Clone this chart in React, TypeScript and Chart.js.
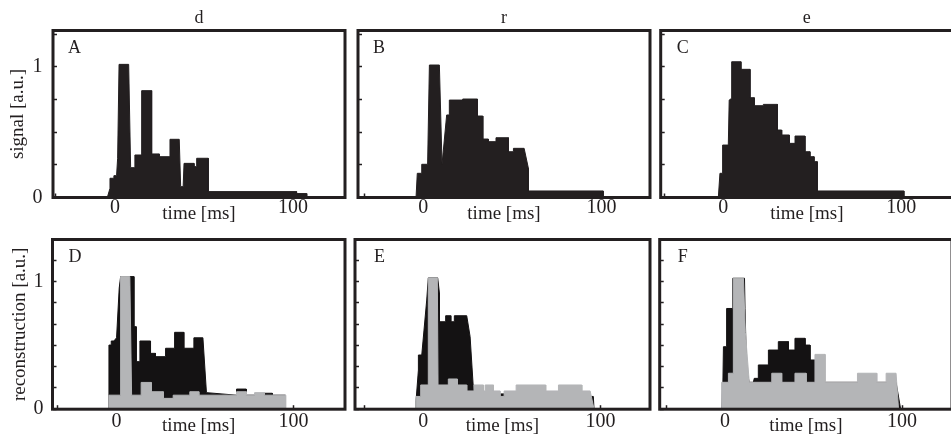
import React, { useEffect, useRef } from 'react';
import { Chart, registerables } from 'chart.js';

Chart.register(...registerables);

type Pt = [number, number];

const FONT = "'Liberation Serif', 'Times New Roman', serif";
const INK = '#231f20';
const BLACK = '#141213';
const GRAY = '#b4b5b7';

const COLUMN_TITLES = ['d', 'r', 'e'];
const ROW_Y_TITLES = ['signal [a.u.]', 'reconstruction [a.u.]'];
const X_TITLE = 'time [ms]';
const X_TICKS = [-33.3, 0, 33.3, 66.7, 100];
const X_TICK_LABELS = [0, 100];
const TOP_Y_TICKS = [0, 0.25, 0.5, 0.75, 1, 1.25];
const BOTTOM_Y_TICKS = [0, 0.167, 0.333, 0.5, 0.667, 0.833, 1, 1.167, 1.333];
const Y_TICK_LABELS = [0, 1];

// Panel A: signal, d
const signalD: Pt[] = [
  [-40, 0], [-4.3, 0], [-2.8, 0.07], [-2.8, 0.147], [-0.6, 0.147], [-0.6, 0.167], [0.9, 0.167],
  [1.5, 0.3], [2.3, 1.018], [7.7, 1.018], [8.8, 0.228], [11.2, 0.228], [11.2, 0.325], [15, 0.325],
  [15, 0.817], [20.6, 0.817], [20.6, 0.333], [24.9, 0.333], [24.9, 0.312], [30.9, 0.312],
  [30.9, 0.445], [36.1, 0.445], [36.9, 0.083], [38.3, 0.083], [38.8, 0.261], [44.4, 0.261],
  [44.4, 0.236], [45.9, 0.236], [45.9, 0.3], [52.4, 0.3], [52.4, 0.045], [102, 0.045],
  [102, 0.03], [107.7, 0.03], [107.7, 0], [135, 0],
];

// Panel B: signal, r
const signalR: Pt[] = [
  [-40, 0], [-4.1, 0], [-3.4, 0.185], [-0.9, 0.185], [-0.9, 0.254], [2.4, 0.254], [3.4, 1.013],
  [9, 1.013], [10.5, 0.254], [13.1, 0.631], [14.6, 0.631], [14.6, 0.745], [22.1, 0.745],
  [22.1, 0.753], [30.4, 0.753], [30.4, 0.623], [33.4, 0.623], [33.4, 0.447], [36.5, 0.447],
  [36.5, 0.427], [40.8, 0.427], [40.8, 0.457], [47.8, 0.457], [47.8, 0.35], [50.6, 0.35],
  [50.6, 0.376], [56.6, 0.376], [59, 0.223], [59, 0.05], [101, 0.05], [101, 0], [135, 0],
];

// Panel C: signal, e
const signalE: Pt[] = [
  [-40, 0], [-2.8, 0], [-1.9, 0.185], [-0.4, 0.185], [-0.4, 0.401], [2.8, 0.401], [3.3, 0.745],
  [4.7, 0.758], [4.7, 1.038], [9.9, 1.038], [9.9, 0.98], [15, 0.98], [15, 0.763], [17.4, 0.763],
  [17.4, 0.702], [22.5, 0.702], [22.5, 0.712], [30.4, 0.712], [30.4, 0.516], [32.8, 0.516],
  [32.8, 0.478], [37.1, 0.478], [37.1, 0.414], [40.3, 0.414], [40.3, 0.47], [45.9, 0.47],
  [45.9, 0.35], [48.7, 0.35], [48.7, 0.312], [51, 0.312], [51, 0.274], [52.8, 0.274],
  [52.8, 0.05], [101.5, 0.05], [101.5, 0], [135, 0],
];

// Panel D: reconstruction, d
const reconDBlack: Pt[] = [
  [-40, 0], [-4.3, 0], [-4.3, 0.503], [-3, 0.503], [-3, 0.535], [-1.5, 0.535], [0, 0.56],
  [1.5, 0.95], [2.3, 1.04], [9.8, 1.04], [9.8, 0.647], [11.1, 0.647], [11.1, 0.373], [13.2, 0.373],
  [13.2, 0.535], [19.2, 0.535], [19.2, 0.438], [22, 0.438], [22, 0.412], [27.7, 0.412],
  [27.7, 0.478], [32.8, 0.478], [32.8, 0.603], [38, 0.603], [38, 0.478], [43.7, 0.478],
  [43.7, 0.56], [48.8, 0.56], [50.8, 0.13], [67.8, 0.11], [67.8, 0.158], [73.3, 0.158],
  [73.3, 0.11], [83.6, 0.11], [83.6, 0.125], [88, 0.125], [88, 0.11], [95.5, 0.11],
  [95.5, 0], [135, 0],
];
const reconDGray: Pt[] = [
  [-40, 0], [-4.3, 0], [-4.3, 0.11], [2.3, 0.11], [2.3, 1.04], [7.5, 1.04], [8.5, 0.11],
  [13.9, 0.11], [13.9, 0.21], [19.6, 0.21], [19.6, 0.137], [26.4, 0.137], [26.4, 0.085],
  [32, 0.085], [32, 0.11], [41.4, 0.11], [41.4, 0.137], [46.5, 0.137], [46.5, 0.11],
  [67.8, 0.11], [67.8, 0.137], [73.3, 0.137], [73.3, 0.11], [78, 0.11], [78, 0.13],
  [83.6, 0.13], [83.6, 0.11], [95.5, 0.11], [95.5, 0], [135, 0],
];

// Panel E: reconstruction, r
const reconRBlack: Pt[] = [
  [-40, 0], [-4.1, 0], [-4.1, 0.07], [-2.8, 0.307], [-2.8, 0.425], [-0.9, 0.425], [1.9, 0.856],
  [2.8, 1.03], [8.1, 1.03], [9.1, 0.91], [9.1, 0.686], [12.6, 0.686], [12.6, 0.733],
  [15.5, 0.733], [15.5, 0.686], [17.5, 0.686], [17.5, 0.733], [24.5, 0.733], [26.4, 0.569],
  [28.3, 0.15], [43.3, 0.12], [45.6, 0.12], [45.6, 0.1], [96, 0.1], [96.4, 0], [135, 0],
];
const reconRGray: Pt[] = [
  [-40, 0], [-4.1, 0], [-4.1, 0.1], [-1.5, 0.1], [-1.5, 0.19], [2.8, 0.19], [2.8, 1.03],
  [7.9, 1.03], [8.3, 0.19], [14.1, 0.19], [14.1, 0.237], [19.2, 0.237], [19.2, 0.19],
  [24.5, 0.19], [24.5, 0.143], [28.6, 0.143], [28.6, 0.19], [33.9, 0.19], [33.9, 0.143],
  [34.9, 0.143], [34.9, 0.19], [39.6, 0.19], [39.6, 0.143], [43.3, 0.143], [43.3, 0.1],
  [45.6, 0.1], [45.6, 0.143], [52.4, 0.143], [52.4, 0.19], [69.1, 0.19], [69.1, 0.143],
  [76.3, 0.143], [76.3, 0.19], [89.5, 0.19], [89.5, 0.143], [94.2, 0.143], [96.4, 0], [135, 0],
];

// Panel F: reconstruction, e
const reconEBlack: Pt[] = [
  [-40, 0], [-1.9, 0], [-1.2, 0.211], [-0.9, 0.49], [0.9, 0.49], [0.9, 0.79], [4.1, 0.79],
  [4.4, 1.027], [11, 1.027], [11.3, 0.79], [12.2, 0.3], [13.7, 0.211], [16, 0.211],
  [16.5, 0.242], [18.8, 0.242], [18.8, 0.347], [24.5, 0.347], [24.5, 0.464], [30.1, 0.464],
  [30.1, 0.53], [35.8, 0.53], [35.8, 0.464], [39.5, 0.464], [39.5, 0.556], [45.2, 0.556],
  [45.2, 0.503], [48, 0.503], [48, 0.386], [50.8, 0.386], [50.8, 0.211], [96.6, 0.211],
  [99.2, 0], [135, 0],
];
const reconEGray: Pt[] = [
  [-40, 0], [-1.9, 0], [-1.9, 0.211], [1.9, 0.211], [1.9, 0.282], [4.7, 0.282], [4.7, 1.027],
  [10.4, 1.027], [11.5, 0.6], [13.7, 0.211], [26.4, 0.211], [26.4, 0.282], [32, 0.282],
  [32, 0.211], [39.5, 0.211], [39.5, 0.282], [45.8, 0.282], [45.8, 0.211], [50.8, 0.211],
  [50.8, 0.43], [56.5, 0.43], [56.5, 0.211], [74.8, 0.211], [74.8, 0.282], [85.7, 0.282],
  [85.7, 0.211], [91, 0.211], [91, 0.282], [96.6, 0.282], [98, 0], [135, 0],
];

type Series = { pts: Pt[]; color: string };
type PanelCfg = {
  letter: string;
  row: number;
  col: number;
  box: { l: number; r: number; t: number; b: number };
  xMin: number;
  xMax: number;
  letterDx: number;
  series: Series[];
};

const PANELS: PanelCfg[] = [
  { letter: 'A', row: 0, col: 0, box: { l: 53, r: 345, t: 30.5, b: 197.5 }, xMin: -34.8, xMax: 129.2, letterDx: 15,
    series: [{ pts: signalD, color: INK }] },
  { letter: 'B', row: 0, col: 1, box: { l: 358, r: 650, t: 30.5, b: 197.5 }, xMin: -36.7, xMax: 127.3, letterDx: 15,
    series: [{ pts: signalR, color: INK }] },
  { letter: 'C', row: 0, col: 2, box: { l: 660.7, r: 953, t: 30.5, b: 197.5 }, xMin: -35.2, xMax: 129.1, letterDx: 16,
    series: [{ pts: signalE, color: INK }] },
  { letter: 'D', row: 1, col: 0, box: { l: 52.5, r: 345, t: 239.5, b: 409.2 }, xMin: -36.2, xMax: 129.1, letterDx: 16,
    series: [{ pts: reconDGray, color: GRAY }, { pts: reconDBlack, color: BLACK }] },
  { letter: 'E', row: 1, col: 1, box: { l: 355, r: 650, t: 239.5, b: 409.2 }, xMin: -38.6, xMax: 128, letterDx: 19,
    series: [{ pts: reconRGray, color: GRAY }, { pts: reconRBlack, color: BLACK }] },
  { letter: 'F', row: 1, col: 2, box: { l: 659.7, r: 952, t: 239.5, b: 409.2 }, xMin: -36.9, xMax: 128.2, letterDx: 18,
    series: [{ pts: reconEGray, color: GRAY }, { pts: reconEBlack, color: BLACK }] },
];

function Panel({ p }: { p: PanelCfg }) {
  const ref = useRef<HTMLCanvasElement>(null);
  const canvasLeft = p.col === 0 ? 0 : Math.floor(p.box.l) - 6;
  const canvasRight = Math.ceil(p.box.r) + 4;
  const canvasTop = p.row === 0 ? 0 : 232;
  const canvasBottom = p.row === 0 ? 228 : 436;
  const W = canvasRight - canvasLeft;
  const H = canvasBottom - canvasTop;
  const ML = p.box.l - canvasLeft;
  const MR = canvasRight - p.box.r;
  const MT = p.box.t - canvasTop;
  const MB = canvasBottom - p.box.b;

  useEffect(() => {
    const colTitle = p.row === 0 ? COLUMN_TITLES[p.col] : '';
    const decor = {
      id: 'decor',
      afterDatasetsDraw(chart: any) {
        const { ctx, chartArea: a } = chart;
        ctx.save();
        ctx.strokeStyle = INK;
        ctx.lineWidth = 3;
        ctx.strokeRect(a.left, a.top, a.right - a.left, a.bottom - a.top);
        ctx.fillStyle = INK;
        ctx.font = `18px ${FONT}`;
        ctx.textAlign = 'left';
        ctx.textBaseline = 'alphabetic';
        ctx.fillText(p.letter, a.left + p.letterDx, a.top + 22);
        if (colTitle) {
          ctx.textAlign = 'center';
          ctx.fillText(colTitle, (a.left + a.right) / 2, 23);
        }
        ctx.restore();
      },
    };
    const zeroPad = (s: any) => {
      s.paddingLeft = 0;
      s.paddingRight = 0;
      s.paddingTop = 0;
      s.paddingBottom = 0;
    };
    const yTicks = p.row === 0 ? TOP_Y_TICKS : BOTTOM_Y_TICKS;
    const yMax = p.row === 0 ? 1.277 : 1.331;
    const chart = new Chart(ref.current as HTMLCanvasElement, {
      type: 'line',
      data: {
        datasets: p.series.map((s) => ({
          data: s.pts.map(([x, y]) => ({ x, y })),
          backgroundColor: s.color,
          borderColor: s.color,
          borderWidth: 1,
          fill: 'origin',
          pointRadius: 0,
          tension: 0,
        })),
      },
      options: {
        responsive: false,
        animation: false,
        devicePixelRatio: 1,
        events: [],
        layout: { padding: { top: MT, right: MR, bottom: 0, left: 0 } },
        plugins: { legend: { display: false }, tooltip: { enabled: false } },
        scales: {
          x: {
            type: 'linear',
            min: p.xMin,
            max: p.xMax,
            z: 1,
            afterBuildTicks: (s: any) => {
              s.ticks = X_TICKS.map((v) => ({ value: v }));
            },
            afterFit: (s: any) => {
              s.height = MB;
              zeroPad(s);
            },
            ticks: {
              autoSkip: false,
              maxRotation: 0,
              padding: p.row === 0 ? 4.5 : 6.5,
              color: INK,
              font: { family: FONT, size: 20, lineHeight: 1 },
              callback: (v: any) => (X_TICK_LABELS.includes(v) ? String(v) : ''),
            },
            grid: { display: true, drawOnChartArea: false, tickLength: -4, tickWidth: 1.5, tickColor: INK },
            border: { display: false },
            title: {
              display: true,
              text: X_TITLE,
              color: INK,
              font: { family: FONT, size: 19, lineHeight: 1 },
              padding: { top: 0, bottom: p.row === 0 ? 4.5 : 0 },
            },
          },
          y: {
            type: 'linear',
            min: 0,
            max: yMax,
            z: 1,
            afterBuildTicks: (s: any) => {
              s.ticks = yTicks.map((v) => ({ value: v }));
            },
            afterFit: (s: any) => {
              s.width = ML;
              zeroPad(s);
            },
            ticks: {
              autoSkip: false,
              padding: p.row === 0 ? 14.5 : 13,
              color: INK,
              font: { family: FONT, size: 20, lineHeight: 1 },
              callback: (v: any) => (p.col === 0 && Y_TICK_LABELS.includes(v) ? String(v) : ''),
            },
            grid: { display: true, drawOnChartArea: false, tickLength: -4, tickWidth: 1.5, tickColor: INK },
            border: { display: false },
            title: {
              display: p.col === 0,
              text: ROW_Y_TITLES[p.row],
              color: INK,
              font: { family: FONT, size: 19, lineHeight: 1 },
              padding: { top: p.row === 0 ? 9 : 10.5, bottom: 0 },
            },
          },
        },
      },
      plugins: [decor],
    } as any);
    return () => chart.destroy();
  }, []);

  return (
    <canvas
      ref={ref}
      width={W}
      height={H}
      style={{ position: 'absolute', left: canvasLeft, top: canvasTop, width: W, height: H }}
    />
  );
}

export default function App() {
  return (
    <div
      style={{
        position: 'fixed',
        left: 0,
        top: 0,
        width: 951,
        height: 436,
        overflow: 'hidden',
        background: '#ffffff',
      }}
    >
      {PANELS.map((p) => (
        <Panel key={p.letter} p={p} />
      ))}
    </div>
  );
}
